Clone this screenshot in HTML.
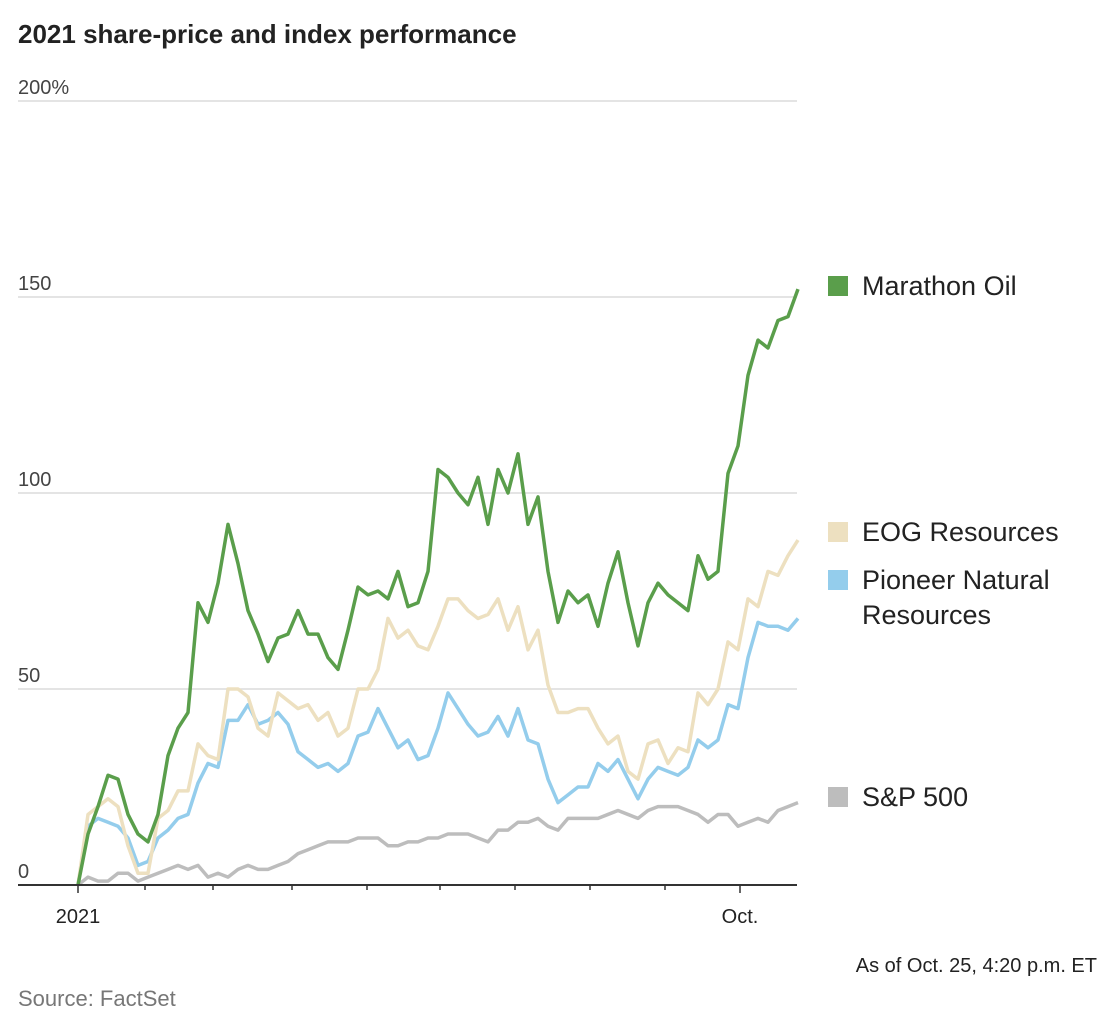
<!DOCTYPE html>
<html><head><meta charset="utf-8">
<style>
html,body{margin:0;padding:0;background:#fff;}
body{width:1110px;height:1032px;overflow:hidden;font-family:"Liberation Sans",sans-serif;}
svg{display:block;}
</style></head>
<body>
<svg id="chart" width="1110" height="1032" viewBox="0 0 1110 1032" xmlns="http://www.w3.org/2000/svg">
<text x="18" y="43" font-family="Liberation Sans, sans-serif" font-weight="bold" font-size="26" fill="#222">2021 share-price and index performance</text>
<g id="grid"></g>
<g id="series"></g>
<g id="axis"></g>
<g font-family="Liberation Sans, sans-serif" font-size="27" fill="#222">
 <rect x="828" y="276" width="20" height="20" fill="#5a9e4b"/>
 <text x="862" y="295">Marathon Oil</text>
 <rect x="828" y="522" width="20" height="20" fill="#ede0c0"/>
 <text x="862" y="541">EOG Resources</text>
 <rect x="828" y="570" width="20" height="20" fill="#94cdec"/>
 <text x="862" y="589">Pioneer Natural</text>
 <text x="862" y="624">Resources</text>
 <rect x="828" y="787" width="20" height="20" fill="#bdbdbd"/>
 <text x="862" y="806">S&amp;P 500</text>
</g>
<text x="1097" y="972" text-anchor="end" font-family="Liberation Sans, sans-serif" font-size="20" fill="#222">As of Oct. 25, 4:20 p.m. ET</text>
<text x="18" y="1006" font-family="Liberation Sans, sans-serif" font-size="22" fill="#777">Source: FactSet</text>
</svg>
<script>
const yTicks = [0, 50, 100, 150, 200];
const yTickLabels = ["0", "50", "100", "150", "200%"];
const xTickIdx = [0, 6.7, 13.5, 21.4, 28.9, 36.2, 43.7, 51.2, 58.7, 66.2];
const xTickLabels = ["2021", "", "", "", "", "", "", "", "", "Oct."];
const marathon = [0,13,20,28,27,18,13,11,18,33,40,44,72,67,77,92,82,70,64,57,63,64,70,64,64,58,55,65,76,74,75,73,80,71,72,80,106,104,100,97,104,92,106,100,110,92,99,80,67,75,72,74,66,77,85,72,61,72,77,74,72,70,84,78,80,105,112,130,139,137,144,145,152];
const eog = [0,18,20,22,20,10,3,3,17,19,24,24,36,33,32,50,50,48,40,38,49,47,45,46,42,44,38,40,50,50,55,68,63,65,61,60,66,73,73,70,68,69,73,65,71,60,65,51,44,44,45,45,40,36,38,29,27,36,37,31,35,34,49,46,50,62,60,73,71,80,79,84,88];
const pioneer = [0,15,17,16,15,12,5,6,12,14,17,18,26,31,30,42,42,46,41,42,44,41,34,32,30,31,29,31,38,39,45,40,35,37,32,33,40,49,45,41,38,39,43,38,45,37,36,27,21,23,25,25,31,29,32,27,22,27,30,29,28,30,37,35,37,46,45,58,67,66,66,65,68];
const sp500 = [0,2,1,1,3,3,1,2,3,4,5,4,5,2,3,2,4,5,4,4,5,6,8,9,10,11,11,11,12,12,12,10,10,11,11,12,12,13,13,13,12,11,14,14,16,16,17,15,14,17,17,17,17,18,19,18,17,19,20,20,20,19,18,16,18,18,15,16,17,16,19,20,21];

const NS = "http://www.w3.org/2000/svg";
const X0 = 78, STEP = 10, Y0 = 885, PXPER = 3.92;
const x = i => X0 + i * STEP;
const y = v => Y0 - v * PXPER;

const grid = document.getElementById('grid');
yTicks.forEach((t, i) => {
  if (t > 0) {
    const l = document.createElementNS(NS, 'line');
    
    
    l.setAttribute('x1', 18); l.setAttribute('x2', 797);
    l.setAttribute('y1', y(t)); l.setAttribute('y2', y(t));
    l.setAttribute('stroke', '#dcdcdc'); l.setAttribute('stroke-width', 1.5);
    grid.appendChild(l);
  }
  const tx = document.createElementNS(NS, 'text');
  
  
  tx.setAttribute('x', 18); tx.setAttribute('y', y(t) - 7);
  tx.setAttribute('font-family', 'Liberation Sans, sans-serif');
  tx.setAttribute('font-size', 20); tx.setAttribute('fill', '#444');
  tx.textContent = yTickLabels[i];
  grid.appendChild(tx);
});

const series = document.getElementById('series');
[[sp500, '#bdbdbd', 'line-sp500'], [pioneer, '#94cdec', 'line-pioneer'], [eog, '#ede0c0', 'line-eog'], [marathon, '#5a9e4b', 'line-marathon']].forEach(([d, c, n]) => {
  const p = document.createElementNS(NS, 'path');
  
  
  p.setAttribute('d', d.map((v, i) => (i ? 'L' : 'M') + x(i) + ',' + y(v)).join(''));
  p.setAttribute('fill', 'none'); p.setAttribute('stroke', c);
  p.setAttribute('stroke-width', 3.5); p.setAttribute('stroke-linejoin', 'round');
  series.appendChild(p);
});

const axis = document.getElementById('axis');
const base = document.createElementNS(NS, 'line');


base.setAttribute('x1', 18); base.setAttribute('x2', 797);
base.setAttribute('y1', Y0); base.setAttribute('y2', Y0);
base.setAttribute('stroke', '#333'); base.setAttribute('stroke-width', 2);
axis.appendChild(base);
xTickIdx.forEach((t, i) => {
  const tk = document.createElementNS(NS, 'line');
  
  
  const xx = x(t);
  tk.setAttribute('x1', xx); tk.setAttribute('x2', xx);
  tk.setAttribute('y1', Y0); tk.setAttribute('y2', i === 0 || i === 9 ? Y0 + 8 : Y0 + 5);
  tk.setAttribute('stroke', '#333'); tk.setAttribute('stroke-width', 1.5);
  axis.appendChild(tk);
  if (xTickLabels[i]) {
    const tx = document.createElementNS(NS, 'text');
    
    
    tx.setAttribute('x', xx); tx.setAttribute('y', Y0 + 38);
    tx.setAttribute('text-anchor', 'middle');
    tx.setAttribute('font-family', 'Liberation Sans, sans-serif');
    tx.setAttribute('font-size', 20); tx.setAttribute('fill', '#222');
    tx.textContent = xTickLabels[i];
    axis.appendChild(tx);
  }
});
</script>
</body></html>
